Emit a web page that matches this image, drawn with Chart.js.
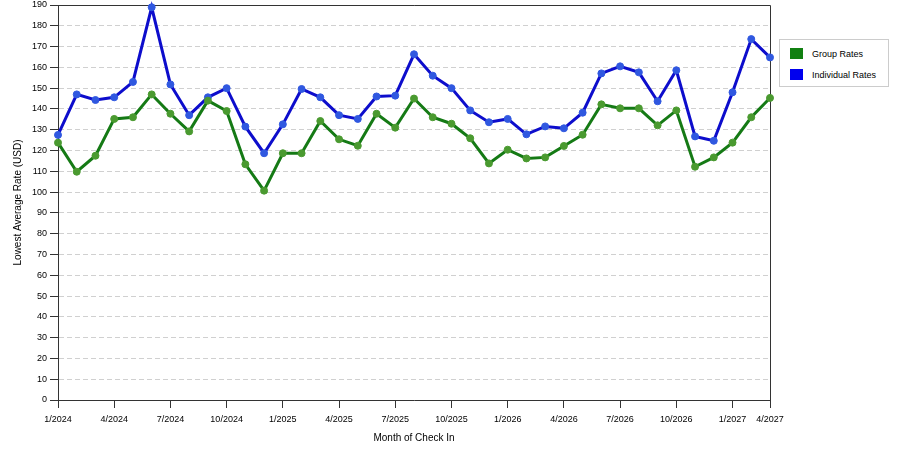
<!DOCTYPE html>
<html>
<head>
<meta charset="utf-8">
<script src="https://cdn.jsdelivr.net/npm/chart.js@4"></script>
<style>
body { margin: 0; background: #fff; }
#wrap { position: relative; width: 900px; height: 450px; }
#legend {
    position: absolute; left: 779px; top: 39px; width: 108px; height: 46px;
    border: 1px solid #ccc; background: #fff;
    font: 9px "Liberation Sans", Arial, sans-serif; color: #000;
}
#legend div { position: absolute; left: 10px; height: 13px; line-height: 13px; }
#legend span { display: inline-block; width: 13px; height: 11px; vertical-align: top; margin-right: 9px; }
</style>
</head>
<body>
<div id="wrap">
    <canvas id="rateChart" width="900" height="450"></canvas>
    <div id="legend"></div>
</div>
<script>
const months = [
    '1/2024','2/2024','3/2024','4/2024','5/2024','6/2024','7/2024','8/2024','9/2024','10/2024','11/2024','12/2024',
    '1/2025','2/2025','3/2025','4/2025','5/2025','6/2025','7/2025','8/2025','9/2025','10/2025','11/2025','12/2025',
    '1/2026','2/2026','3/2026','4/2026','5/2026','6/2026','7/2026','8/2026','9/2026','10/2026','11/2026','12/2026',
    '1/2027','2/2027','3/2027'
];

const groupRates = [
    123.8,109.8,117.5,135.2,136,147,137.7,129.2,144,139,113.4,100.7,
    118.7,118.7,134.2,125.4,122.3,137.7,131,145,136,132.9,125.9,113.8,
    120.4,116.2,116.7,122.2,127.6,142.2,140.3,140.3,132.1,139.3,112.2,116.7,
    123.8,136,145.3
];

const individualRates = [
    127.5,147,144.3,145.6,153,188.9,151.8,137,145.6,150,131.5,118.7,
    132.6,149.6,145.6,137,135.2,146,146.4,166.3,156,150,139.3,133.6,
    135.2,127.8,131.6,130.7,138.2,157.1,160.5,157.6,143.7,158.6,126.8,124.7,
    148,173.6,164.8
];

// x tick labels and the month index they sit on
const tickLabels = ['1/2024','4/2024','7/2024','10/2024','1/2025','4/2025','7/2025','10/2025','1/2026','4/2026','7/2026','10/2026','1/2027','4/2027'];
const tickPos = [0,3,6,9,12,15,18,21,24,27,30,33,36,38];

const FONT = '"Liberation Sans", Arial, sans-serif';

const series = [
    { label: 'Group Rates', values: groupRates, line: '#157a15', dot: '#4a9a30', swatch: '#118011' },
    { label: 'Individual Rates', values: individualRates, line: '#0d0dcc', dot: '#3058e0', swatch: '#0000ee' }
];

// frame on top and right of plot, under the lines
const framePlugin = {
    id: 'frame',
    beforeDatasetsDraw(chart) {
        const a = chart.chartArea;
        const ctx = chart.ctx;
        ctx.save();
        ctx.strokeStyle = '#333';
        ctx.lineWidth = 1;
        ctx.beginPath();
        ctx.moveTo(a.left, a.top + 0.5);
        ctx.lineTo(a.right + 0.5, a.top + 0.5);
        ctx.lineTo(a.right + 0.5, a.bottom);
        ctx.stroke();
        ctx.restore();
    }
};

const datasets = series.map(s => ({
    label: s.label,
    data: s.values.map((v, i) => ({ x: i, y: v })),
    borderColor: s.line,
    borderWidth: 3,
    pointRadius: 3.5,
    pointBorderWidth: 1,
    pointBackgroundColor: s.dot,
    pointBorderColor: s.dot,
    tension: 0,
    clip: false
}));

new Chart(document.getElementById('rateChart'), {
    type: 'line',
    data: { datasets: datasets },
    options: {
        responsive: false,
        animation: false,
        layout: { padding: { left: 0, right: 130, top: 5, bottom: 0 } },
        plugins: {
            legend: { display: false },
            tooltip: { enabled: false }
        },
        scales: {
            x: {
                type: 'linear',
                min: 0,
                max: months.length - 1,
                afterBuildTicks: (scale) => { scale.ticks = tickPos.map(v => ({ value: v })); },
                afterFit: (scale) => { scale.height = 50; },
                grid: { drawOnChartArea: false, tickLength: 8, tickColor: '#333' },
                border: { color: '#333', width: 1 },
                ticks: {
                    autoSkip: false,
                    maxRotation: 0,
                    padding: 6,
                    color: '#000',
                    font: { family: FONT, size: 9 },
                    callback: (v) => tickLabels[tickPos.indexOf(v)]
                },
                title: {
                    display: true,
                    text: 'Month of Check In',
                    color: '#000',
                    font: { family: FONT, size: 10 },
                    padding: { top: 0, bottom: 6 }
                }
            },
            y: {
                min: 0,
                max: 190,
                afterFit: (scale) => { scale.width = 58; scale.paddingTop = 0; },
                grid: { color: '#d0d0d0', tickLength: 8, tickColor: '#333', tickBorderDash: [] },
                border: { color: '#333', width: 1, dash: [5, 3] },
                ticks: {
                    stepSize: 10,
                    padding: 3,
                    color: '#000',
                    font: { family: FONT, size: 9 }
                },
                title: {
                    display: true,
                    text: 'Lowest Average Rate (USD)',
                    color: '#000',
                    font: { family: FONT, size: 10 },
                    padding: { top: 12, bottom: 0 }
                }
            }
        }
    },
    plugins: [framePlugin]
});

const legend = document.getElementById('legend');
series.forEach((s, i) => {
    const row = document.createElement('div');
    row.style.top = (8 + i * 21) + 'px';
    row.innerHTML = '<span style="background:' + s.swatch + '"></span>' + s.label;
    legend.appendChild(row);
});
</script>
</body>
</html>
